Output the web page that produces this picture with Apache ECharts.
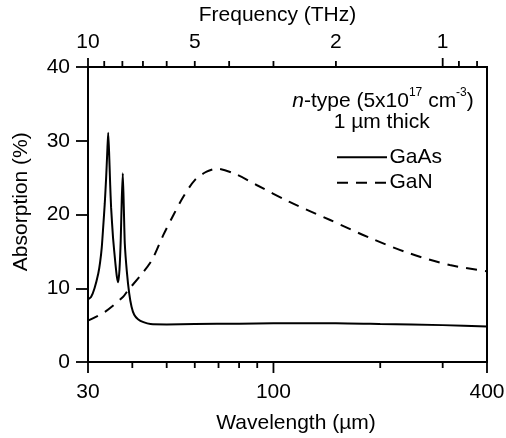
<!DOCTYPE html>
<html>
<head>
<meta charset="utf-8">
<script src="https://cdn.jsdelivr.net/npm/echarts@6/dist/echarts.min.js"></script>
<style>html,body{margin:0;padding:0;background:#fff}#c{width:506px;height:438px}</style>
</head>
<body>
<div id="c"></div>
<script>
// ---- data ----
const gaasWavelength = [30,30.6,31.3,32.07,32.45,32.8,33.1,33.45,33.75,34.0,34.2,34.4,34.65,34.85,35.3,35.85,36.2,36.5,36.8,37.1,37.35,37.6,37.85,38.1,38.6,39.2,39.8,40.5,41.5,43,45,50,60,80,100,150,200,300,400];
const gaasAbsorption = [8.5,8.8,10,12,13.5,15.5,18.2,21.5,25,28.5,31.1,28.5,24,21,16.8,13.3,11.5,10.8,12.5,16.5,22,25.6,21,16,12.3,9.3,7.5,6.4,5.8,5.4,5.15,5.1,5.15,5.2,5.25,5.25,5.15,5.0,4.8];
const ganWavelength = [30,33.5,37.7,39,42,45.4,48.9,52.2,55.7,60.1,64.8,69.2,78.8,89.6,111,144.5,187.5,243,314,400];
const ganAbsorption = [5.6,6.8,8.85,9.8,11.6,13.8,17.2,19.9,22.4,24.7,25.8,26.2,25.4,24.0,21.7,19.25,16.8,14.7,13.15,12.3];
const seriesNames = ['GaAs','GaN'];
const wlMajorTicks = [30,100,400];
const wlMinorTicks = [40,50,60,70,80,90,200,300];
const wlTickLabels = ['30','100','400'];
const freqTicks = [10,9,8,7,6,5,4,3,2,1,0.9,0.8];
const freqMajorTicks = [10,1];
const freqTickLabels = [10,5,2,1];
const C_UM_THZ = 300; // wavelength(um) = 300 / frequency(THz)

const FONT = "'Liberation Sans', Arial, Helvetica, sans-serif";
const FS = 21;
const chart = echarts.init(document.getElementById('c'), null, {renderer:'canvas'});

function tickSeries(name, values, side, len, labels){
  return {
    type:'custom', name:name, xAxisIndex:0, yAxisIndex:0, clip:false, silent:true,
    data: values.map((v,i)=>[v, 0, labels ? labels[i] : '']),
    encode:{x:0,y:1},
    renderItem:function(params, api){
      const v = api.value(0);
      const b = api.coord([v, 0]);
      const t = api.coord([v, 40]);
      const children = [];
      if(len > 0){
        if(side==='bottom'){
          children.push({type:'line', shape:{x1:b[0],y1:b[1],x2:b[0],y2:b[1]+len}, style:{stroke:'#000',lineWidth:1.8}});
        } else {
          children.push({type:'line', shape:{x1:t[0],y1:t[1],x2:t[0],y2:t[1]-len}, style:{stroke:'#000',lineWidth:1.8}});
        }
      }
      const lab = api.value(2);
      if(lab !== '' && lab !== undefined && lab !== null && !(typeof lab==='number' && isNaN(lab))){
        const y = side==='bottom' ? b[1]+30 : t[1]-25;
        children.push({type:'text', style:{text:String(lab), x:b[0], y:y, align:'center', verticalAlign:'middle', fill:'#000', font:FS+'px '+FONT}});
      }
      return {type:'group', children:children};
    }
  };
}

const option = {
  animation:false,
  backgroundColor:'#fff',
  grid:{left:88,right:19,top:67,bottom:76,show:true,borderColor:'#000',borderWidth:2,backgroundColor:'transparent'},
  xAxis:[{
    type:'log', logBase:10, min:30, max:400,
    axisLine:{show:false}, axisTick:{show:false}, axisLabel:{show:false}, splitLine:{show:false}, minorTick:{show:false}
  }],
  yAxis:[{
    type:'value', min:0, max:40, interval:10,
    axisLine:{show:false},
    axisTick:{show:true,length:12,lineStyle:{color:'#000',width:1.8}},
    axisLabel:{color:'#000',fontSize:FS,fontFamily:FONT,margin:18},
    splitLine:{show:false}
  }],
  graphic:[
    {type:'text', x:277.5, y:15, style:{text:'Frequency (THz)', align:'center', verticalAlign:'middle', fill:'#000', font:FS+'px '+FONT}},
    {type:'text', x:296, y:423, style:{text:'Wavelength (\u00b5m)', align:'center', verticalAlign:'middle', fill:'#000', font:FS+'px '+FONT}},
    {type:'text', x:21.7, y:201.7, rotation:Math.PI/2, style:{text:'Absorption (%)', align:'center', verticalAlign:'middle', fill:'#000', font:FS+'px '+FONT}},
    {type:'text', x:383, y:99, style:{
      text:'{i|n}{n|-type (5x10}{s|17}{n| cm}{s|-3}{n|)}', align:'center', verticalAlign:'middle', fill:'#000', font:FS+'px '+FONT,
      rich:{
        i:{fontSize:FS,fontStyle:'italic',fontFamily:FONT,lineHeight:25,verticalAlign:'bottom'},
        n:{fontSize:FS,fontFamily:FONT,lineHeight:25,verticalAlign:'bottom'},
        s:{fontSize:12,fontFamily:FONT,lineHeight:25,verticalAlign:'top'}
      }}},
    {type:'text', x:381.7, y:122, style:{text:'1 \u00b5m thick', align:'center', verticalAlign:'middle', fill:'#000', font:FS+'px '+FONT}},
    // legend
    {type:'line', shape:{x1:337,y1:157.3,x2:387,y2:157.3}, style:{stroke:'#000',lineWidth:2}},
    {type:'text', x:389.5, y:157.3, style:{text:seriesNames[0], align:'left', verticalAlign:'middle', fill:'#000', font:FS+'px '+FONT}},
    {type:'line', shape:{x1:337,y1:182.7,x2:387,y2:182.7}, style:{stroke:'#000',lineWidth:2,lineDash:[11,8]}},
    {type:'text', x:389.5, y:182.7, style:{text:seriesNames[1], align:'left', verticalAlign:'middle', fill:'#000', font:FS+'px '+FONT}}
  ],
  series:[
    {
      name:seriesNames[0], type:'line', xAxisIndex:0, yAxisIndex:0,
      data:gaasWavelength.map((x,i)=>[x,gaasAbsorption[i]]),
      showSymbol:false, symbol:'none', smooth:0.2,
      lineStyle:{color:'#000',width:2,type:'solid'}, itemStyle:{color:'#000'}
    },
    {
      name:seriesNames[1], type:'line', xAxisIndex:0, yAxisIndex:0,
      data:ganWavelength.map((x,i)=>[x,ganAbsorption[i]]),
      showSymbol:false, symbol:'none', smooth:0.3,
      lineStyle:{color:'#000',width:2,type:[11,8]}, itemStyle:{color:'#000'}
    },
    tickSeries('wlMajor', wlMajorTicks, 'bottom', 11, wlTickLabels),
    tickSeries('wlMinor', wlMinorTicks, 'bottom', 6, null),
    tickSeries('frMajor', freqMajorTicks.map(f=>C_UM_THZ/f), 'top', 9, null),
    tickSeries('frMinor', freqTicks.filter(f=>freqMajorTicks.indexOf(f)<0).map(f=>C_UM_THZ/f), 'top', 6, null),
    tickSeries('frLabels', freqTickLabels.map(f=>C_UM_THZ/f), 'top', 0, freqTickLabels)
  ]
};
chart.setOption(option);
</script>
</body>
</html>
